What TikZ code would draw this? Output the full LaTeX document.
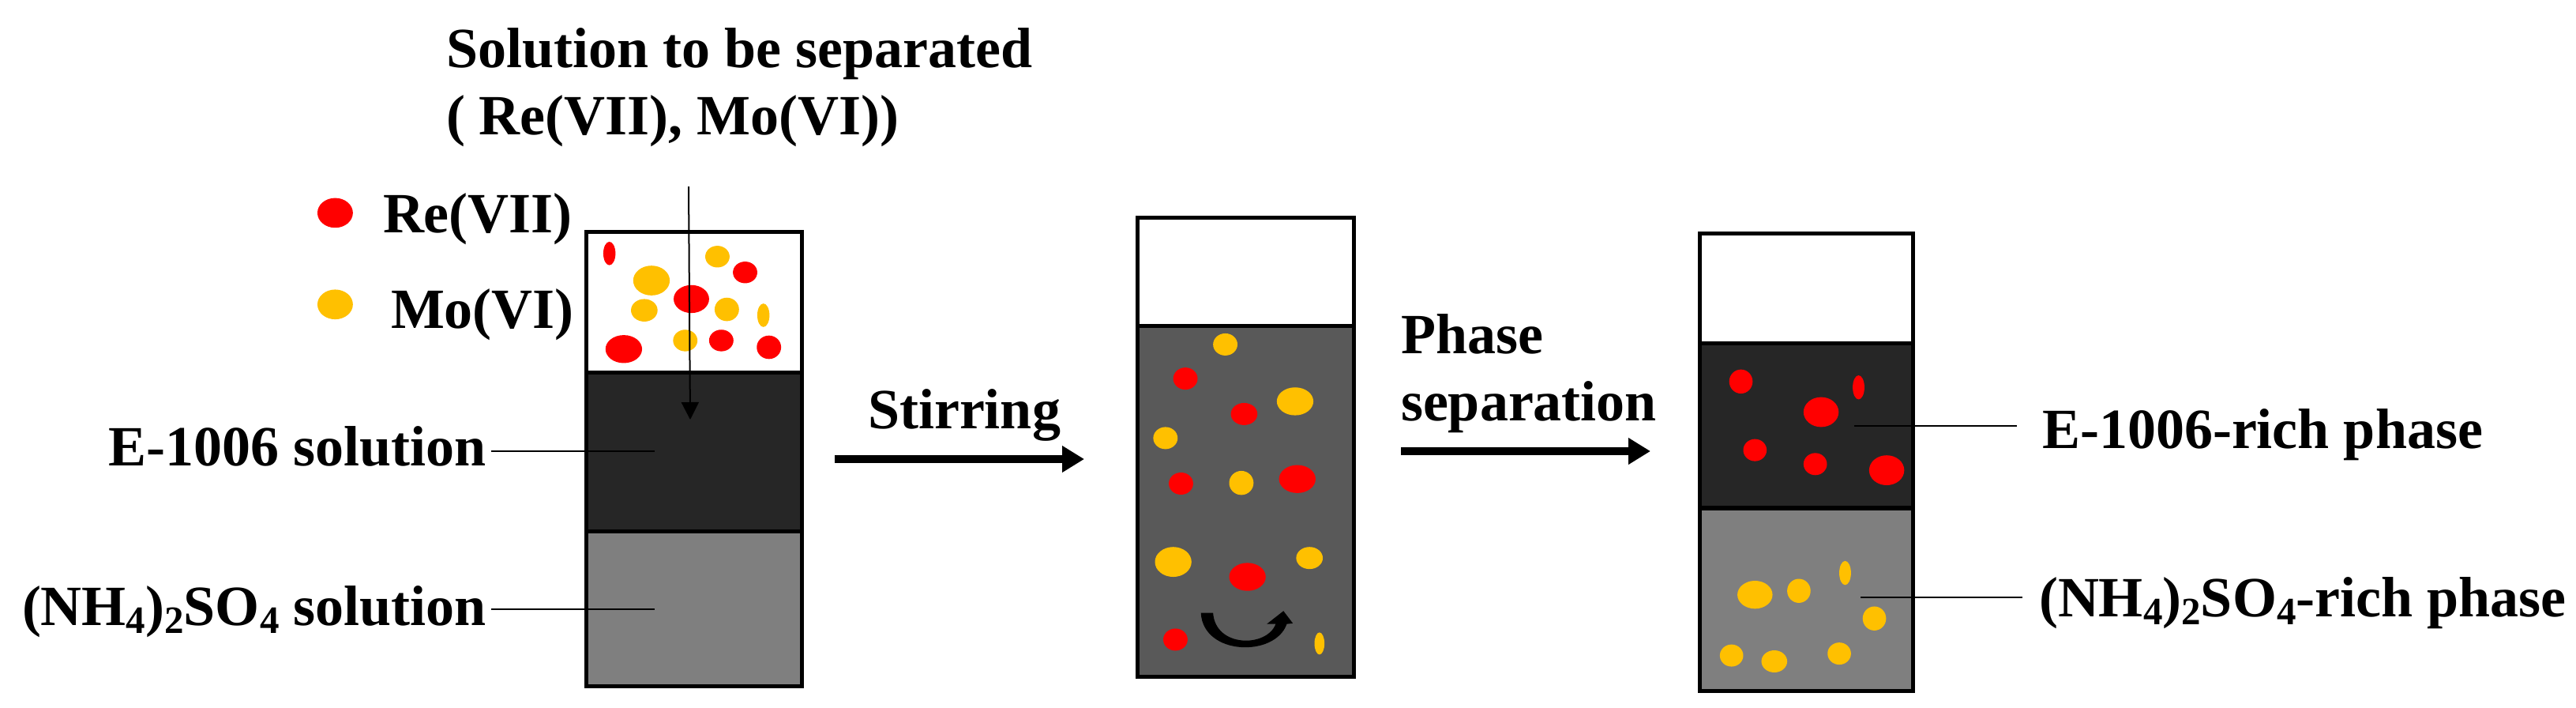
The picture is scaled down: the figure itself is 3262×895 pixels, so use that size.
\documentclass[tikz,border=0pt]{standalone}
\usepackage{fontspec}
\setmainfont{Liberation Serif}
\usetikzlibrary{arrows.meta}
\definecolor{rered}{HTML}{FF0000}
\definecolor{moorange}{HTML}{FFC000}
\definecolor{darkphase}{HTML}{262626}
\definecolor{midphase}{HTML}{595959}
\definecolor{greyphase}{HTML}{7F7F7F}
\newcommand\spot[5]{\fill[#1] (#2,#3) ellipse [x radius=#4,y radius=#5];}
\newcommand\lowidx[1]{\raisebox{-5pt}{\fontsize{24.5}{24.5}\selectfont #1}}
\tikzset{
  lbl/.style={inner sep=0pt,outer sep=0pt,anchor=base west,font=\bfseries\fontsize{36}{40}\selectfont},
  wall/.style={draw=black,line width=2.5pt},
  leader/.style={draw=black,line width=1.4pt},
  bigarrow/.style={draw=black,line width=5pt,-{Triangle[width=16pt,length=14pt]}},
  feed/.style={draw=black,line width=1pt,-{Triangle[width=11pt,length=11pt]}},
}
\begin{document}
\begin{tikzpicture}[x=0.5pt,y=-0.5pt]
\useasboundingbox (0,0) rectangle (3262,895);
\fill[white] (0,0) rectangle (3262,895);

% first column
\fill[white] (742,293) rectangle (1015,471);
\fill[darkphase] (742,471) rectangle (1015,672);
\fill[greyphase] (742,672) rectangle (1015,868);
\draw[wall] (742,293) rectangle (1015,868);
\draw[wall] (742,471) -- (1015,471);
\draw[wall] (742,672) -- (1015,672);

% second column
\fill[white] (1440,275) rectangle (1714,412);
\fill[midphase] (1440,412) rectangle (1714,856);
\draw[wall] (1440,275) rectangle (1714,856);
\draw[wall] (1440,412) -- (1714,412);

% third column
\fill[white] (2152,295) rectangle (2422,434);
\fill[darkphase] (2152,434) rectangle (2422,643);
\fill[greyphase] (2152,643) rectangle (2422,874);
\draw[wall] (2152,295) rectangle (2422,874);
\draw[wall] (2152,434) -- (2422,434);
\draw[line width=3.2pt] (2152,643) -- (2422,643);

% dots, first column and legend
\begin{scope}[x=0.35075pt,y=-0.28539pt]
\spot{rered}{605}{472}{32}{33}
\spot{moorange}{605}{675}{32}{33}
\spot{rered}{1100}{562}{11}{26}
\spot{moorange}{1295}{569}{22}{24}
\spot{rered}{1345}{604}{22}{24}
\spot{moorange}{1176}{622}{33}{33}
\spot{rered}{1248}{663}{32}{31}
\spot{moorange}{1163}{688}{24}{25}
\spot{moorange}{1312}{686}{22}{26}
\spot{moorange}{1378}{699}{11}{26}
\spot{rered}{1126}{774}{33}{31}
\spot{moorange}{1237}{755}{22}{24}
\spot{rered}{1302}{755}{22}{24}
\spot{rered}{1388}{770}{22}{26}
\end{scope}

% dots, second column
\begin{scope}[shift={(1050,250)},x=0.35075pt,y=-0.20568pt]
\spot{moorange}{715}{452}{22}{34}
\spot{rered}{643}{557}{22}{34}
\spot{moorange}{841}{627}{33}{43}
\spot{rered}{749}{666}{24}{34}
\spot{moorange}{607}{740}{22}{34}
\spot{rered}{635}{880}{22}{34}
\spot{moorange}{744}{878}{22}{37}
\spot{rered}{845}{866}{33}{43}
\spot{moorange}{621}{1121}{33}{46}
\spot{rered}{755}{1167}{33}{43}
\spot{moorange}{867}{1109}{24}{34}
\spot{rered}{625}{1360}{22}{34}
\spot{moorange}{885}{1372}{9}{34}
% stirring mark
\fill[black] (671,1278) -- (693,1278) .. controls (697,1385) and (790,1385) .. (806,1312)
  -- (790,1312) -- (820,1272) -- (837,1310) -- (826,1312)
  .. controls (805,1415) and (675,1410) .. (671,1278) -- cycle;
\end{scope}

% dots, third column
\begin{scope}[shift={(2100,250)},x=0.37064pt,y=-0.20568pt]
\spot{rered}{141}{566}{20}{37}
\spot{rered}{342}{584}{10}{37}
\spot{rered}{278}{660}{30}{46}
\spot{rered}{165}{777}{20}{34}
\spot{rered}{268}{820}{20}{34}
\spot{rered}{390}{839}{30}{46}
\spot{moorange}{319}{1155}{10}{37}
\spot{moorange}{165}{1222}{30}{43}
\spot{moorange}{240}{1210}{20}{37}
\spot{moorange}{369}{1295}{20}{37}
\spot{moorange}{125}{1409}{20}{34}
\spot{moorange}{198}{1427}{22}{34}
\spot{moorange}{309}{1403}{20}{34}
\end{scope}

% labels
\node[lbl] (feedA) at (565,85) {Solution to be separated};
\node[lbl] (feedB) at (565,170) {( Re(VII), Mo(VI))};
\node[lbl] (legRe) at (485,294) {Re(VII)};
\node[lbl] (legMo) at (495,415) {Mo(VI)};
\node[lbl] (eSol) at (137,589) {E-1006 solution};
\node[lbl] (nSol) at (28,791) {(NH\lowidx{4})\lowidx{2}SO\lowidx{4} solution};
\node[lbl] (stir) at (1099,542) {Stirring};
\node[lbl] (phA) at (1774,447) {Phase};
\node[lbl] (phB) at (1774,532) {separation};
\node[lbl] (eRich) at (2586,567) {E-1006-rich phase};
\node[lbl] (nRich) at (2582,780) {(NH\lowidx{4})\lowidx{2}SO\lowidx{4}-rich phase};

% connectors
\coordinate (feedS) at (872,236);
\coordinate (feedE) at (874,531);
\draw[feed] (feedS) -- (feedE);
\coordinate (eL) at (622,571);
\coordinate (eR) at (829,571);
\draw[leader] (eL) -- (eR);
\coordinate (nL) at (622,771);
\coordinate (nR) at (829,771);
\draw[leader] (nL) -- (nR);
\coordinate (erL) at (2348,539);
\coordinate (erR) at (2554,539);
\draw[leader] (erL) -- (erR);
\coordinate (nrL) at (2356,756);
\coordinate (nrR) at (2561,756);
\draw[leader] (nrL) -- (nrR);
\coordinate (stirS) at (1057,581);
\coordinate (stirE) at (1373,581);
\draw[bigarrow] (stirS) -- (stirE);
\coordinate (phS) at (1774,571);
\coordinate (phE) at (2090,571);
\draw[bigarrow] (phS) -- (phE);
\end{tikzpicture}
\end{document}
